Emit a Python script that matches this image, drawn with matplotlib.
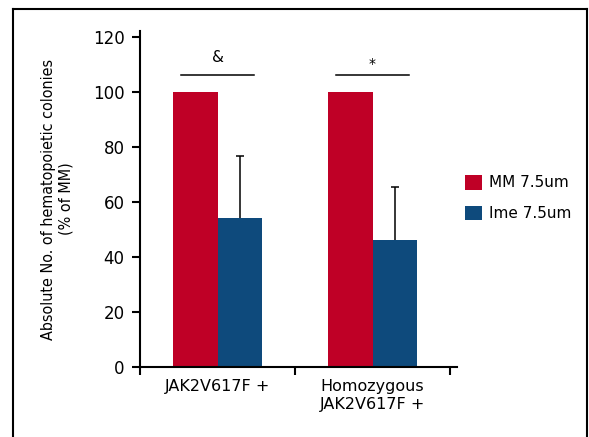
import numpy as np
import matplotlib
matplotlib.use('Agg')
import matplotlib.pyplot as plt
from matplotlib.lines import Line2D

groups = ['JAK2V617F +', 'Homozygous\nJAK2V617F +']
series = ['MM 7.5um', 'Ime 7.5um']
mm_vals = [100, 100]
ime_vals = [54, 46]
ime_err = [22.6, 19.3]
sig_marks = ['&', '*']

red = '#BF0026'
blue = '#0E4A7C'

plt.rcParams['font.family'] = ['DejaVu Sans']

fig = plt.figure(figsize=(5.89, 4.37), dpi=100)
ax = fig.add_axes([140 / 589, 1 - 367 / 437, 317 / 589, 336 / 437])

x = np.arange(len(groups)) + 0.5
w = 0.287
ax.bar(x - w / 2, mm_vals, w, color=red, label=series[0])
ax.bar(x + w / 2, ime_vals, w, color=blue, label=series[1])

# upper error bars only
tops = np.array(ime_vals) + np.array(ime_err)
ax.vlines(x + w / 2, ime_vals, tops, color='black', lw=1.1)
ax.plot(x + w / 2, tops, ls='none', marker='_', ms=5.5, mew=1.1, color='black')

# significance bars
for xi, mark in zip(x, sig_marks):
    ax.plot([xi - 0.235, xi + 0.235], [106, 106], color='black', lw=1.1)
    if mark == '&':
        ax.text(xi, 109.5, mark, ha='center', va='bottom', fontsize=11)
    else:
        ax.text(xi, 107.5, mark, ha='center', va='bottom', fontsize=10)

ax.set_xlim(0, 2.045)
ax.set_ylim(0, 122)
ax.set_yticks(np.arange(0, 121, 20))
ax.set_xticks([0, 1, 2])
ax.set_xticklabels([])
ax.set_xticks(x, minor=True)
ax.set_xticklabels(groups, minor=True, fontsize=11.5)
ax.tick_params(axis='x', which='minor', length=0, pad=9)
ax.tick_params(axis='x', which='major', direction='out', length=6, width=1.5)
ax.tick_params(axis='y', direction='out', length=6, width=1.5, labelsize=12, pad=5)

for s in ['top', 'right']:
    ax.spines[s].set_visible(False)
for s in ['left', 'bottom']:
    ax.spines[s].set_linewidth(1.5)

ax.set_ylabel('Absolute No. of hematopoietic colonies\n(% of MM)',
              fontsize=11.5, fontstretch='condensed', labelpad=14,
              linespacing=1.2)

ax.legend(loc='center left', bbox_to_anchor=(451 / 589, 1 - 198 / 437),
          bbox_transform=fig.transFigure, frameon=False, fontsize=11,
          handlelength=1.1, handleheight=1.1, handletextpad=0.5, labelspacing=1.0)

# outer frame
lw = 1.5
fig.add_artist(Line2D([13 / 589, 13 / 589], [0, 1 - 9 / 437], color='black', lw=lw))
fig.add_artist(Line2D([13 / 589, 587 / 589], [1 - 9 / 437, 1 - 9 / 437], color='black', lw=lw))
fig.add_artist(Line2D([587 / 589, 587 / 589], [0, 1 - 9 / 437], color='black', lw=lw))

fig.savefig('out.png', dpi=100)
